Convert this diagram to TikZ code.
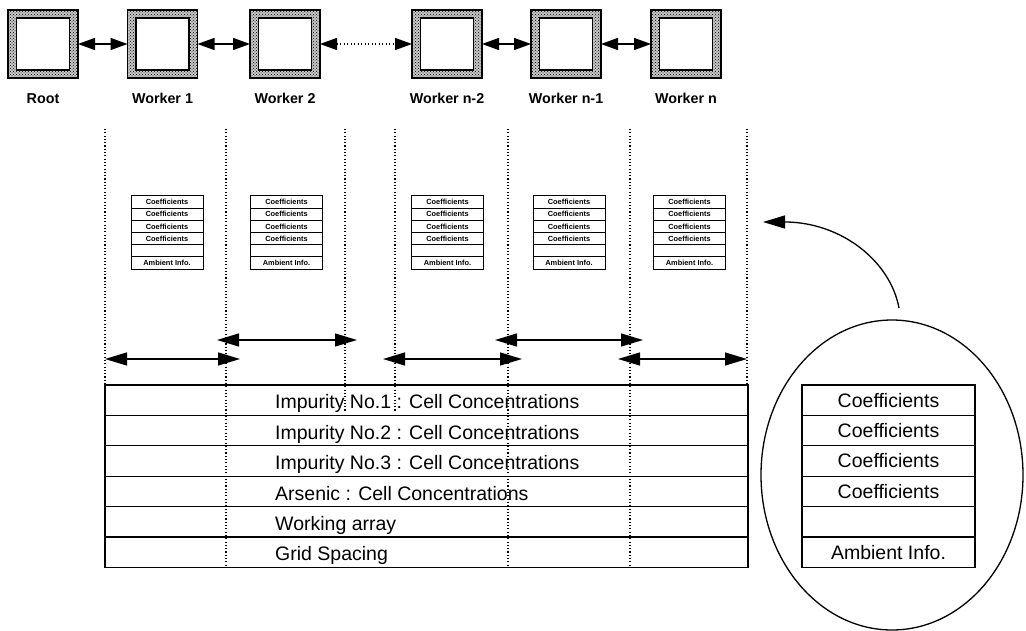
\documentclass[tikz,border=0pt]{standalone}
\usepackage{fontspec}
\setmainfont{Liberation Sans}
\usetikzlibrary{arrows.meta,patterns,shapes.geometric}

\begin{document}
\begin{tikzpicture}[x=1pt,y=-1pt,
  proc/.style={draw, line width=1.1pt, preaction={fill=black!22},
    pattern=crosshatch dots, pattern color=black,
    minimum width=70pt, minimum height=68pt, inner sep=0pt, outer sep=0pt},
  core/.style={draw, line width=1.1pt, fill=white, minimum width=53pt,
    minimum height=52pt, inner sep=0pt, outer sep=0pt},
  plabel/.style={font=\bfseries\fontsize{14.3}{16}\selectfont, anchor=base},
  link/.style={line width=1.3pt, {Triangle[length=17pt,width=12pt]}-{Triangle[length=17pt,width=12pt]}},
  farlink/.style={link, dash pattern=on 1.1pt off 2.4pt},
  guide/.style={line width=1.2pt, dash pattern=on 1.1pt off 2.2pt},
  halo/.style={line width=1.4pt, {Triangle[length=22pt,width=13pt]}-{Triangle[length=22pt,width=13pt]}},
  pointer/.style={line width=1.3pt, -{Triangle[length=22pt,width=13pt]}},
  trow/.style={draw, line width=1.3pt, minimum width=643pt, minimum height=30.4pt,
    inner sep=0pt, outer sep=0pt},
  crow/.style={draw, line width=1.3pt, minimum width=173pt, minimum height=30.4pt,
    inner sep=0pt, outer sep=0pt, font=\fontsize{19.5}{22}\selectfont},
  ttext/.style={anchor=base west, inner sep=0pt, font=\fontsize{19.5}{22}\selectfont},
  srow/.style={draw, line width=1pt, minimum width=72pt, minimum height=12.2pt,
    inner sep=0pt, outer sep=0pt, anchor=north, font=\bfseries\fontsize{7.4}{8}\selectfont},
  coefstack/.pic={
    \foreach \i/\t in {0/Coefficients,1/Coefficients,2/Coefficients,3/Coefficients,4/,5/Ambient Info.}
      \node[srow] (-row\i) at (0,\i*12.2) {\t};
  }
]
\useasboundingbox (0,0) rectangle (1026,631);

% processors
\foreach \n/\x in {root/43, w1/162.5, w2/285, wn2/447, wn1/566, wn/686}{
  \node[proc] (\n) at (\x,44) {};
  \node[core] (\n-in) at (\x,44) {};
}
\node[plabel] (lroot) at (43,104)  {Root};
\node[plabel] (lw1)   at (162.5,104) {Worker 1};
\node[plabel] (lw2)   at (285,104) {Worker 2};
\node[plabel] (lwn2)  at (447,104) {Worker n-2};
\node[plabel] (lwn1)  at (566,104) {Worker n-1};
\node[plabel] (lwn)   at (686,104) {Worker n};

% links between processors
\draw[link] (root.east) -- (w1.west);
\draw[link] (w1.east) -- (w2.west);
\draw[farlink] (w2.east) -- (wn2.west);
\draw[link] (wn2.east) -- (wn1.west);
\draw[link] (wn1.east) -- (wn.west);

% partition boundaries
\draw[guide] (105,129) -- (105,385);
\draw[guide] (226,129) -- (226,567);
\draw[guide] (345,129) -- (345,412);
\draw[guide] (395,129) -- (395,412);
\draw[guide] (508,129) -- (508,567);
\draw[guide] (630,129) -- (630,567);
\draw[guide] (747,129) -- (747,385);

% per-worker coefficient stacks
\pic (s1) at (167,196) {coefstack};
\pic (s2) at (286.5,196) {coefstack};
\pic (s3) at (447.5,196) {coefstack};
\pic (s4) at (569,196) {coefstack};
\pic (s5) at (689.5,196) {coefstack};

% overlap (halo) regions
\coordinate (h1a) at (217,340); \coordinate (h1b) at (357,340);
\coordinate (h2a) at (495,340); \coordinate (h2b) at (643,340);
\coordinate (h3a) at (105,359); \coordinate (h3b) at (240,359);
\coordinate (h4a) at (383,359); \coordinate (h4b) at (522,359);
\coordinate (h5a) at (618,359); \coordinate (h5b) at (747,359);
\draw[halo] (h1a) -- (h1b);
\draw[halo] (h2a) -- (h2b);
\draw[halo] (h3a) -- (h3b);
\draw[halo] (h4a) -- (h4b);
\draw[halo] (h5a) -- (h5b);

% global arrays
\foreach \i/\yc in {1/400.2, 2/430.6, 3/461, 4/491.4, 5/521.8, 6/552.2}
  \node[trow] (r\i) at (426.5,\yc) {};
\node[ttext] (t1) at (275,408.5) {Impurity No.1 : Cell Concentrations};
\node[ttext] (t2) at (275,439)   {Impurity No.2 : Cell Concentrations};
\node[ttext] (t3) at (275,469.5) {Impurity No.3 : Cell Concentrations};
\node[ttext] (t4) at (275,500)   {Arsenic : Cell Concentrations};
\node[ttext] (t5) at (275,530)   {Working array};
\node[ttext] (t6) at (275,560)   {Grid Spacing};

% enlarged stack
\node[draw, ellipse, line width=1.3pt, minimum width=262pt, minimum height=310pt,
  inner sep=0pt, outer sep=0pt] (detail) at (892,475) {};
\foreach \i/\yc/\t in {1/400.2/Coefficients, 2/430.6/Coefficients, 3/461/Coefficients,
    4/491.4/Coefficients, 5/521.8/, 6/552.2/Ambient Info.}
  \node[crow] (c\i) at (888.5,\yc) {\t};

\coordinate (ptr) at (763,222);
\draw[pointer] ([xshift=7pt,yshift=12pt]detail.north) .. controls (890,260) and (840,222) .. (ptr);
\end{tikzpicture}
\end{document}
